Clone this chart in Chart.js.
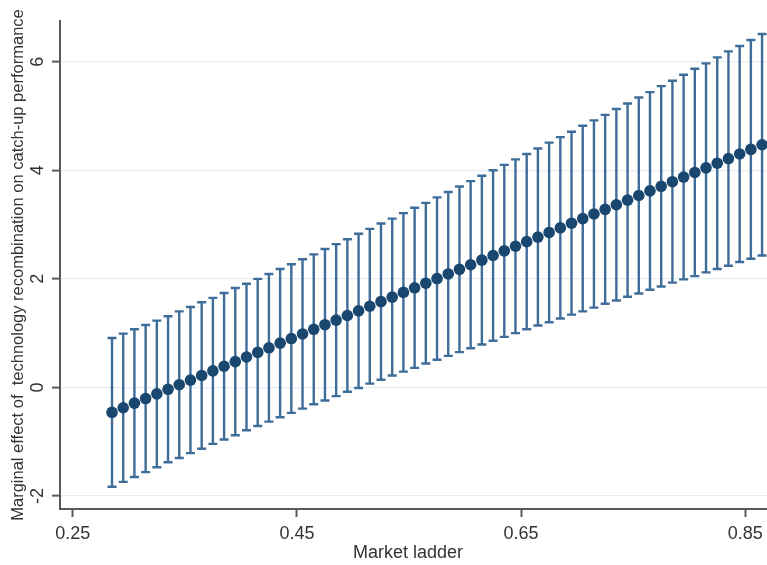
<!DOCTYPE html>
<html>
<head>
<meta charset="utf-8">
<script src="https://cdn.jsdelivr.net/npm/chart.js@4/dist/chart.umd.min.js"></script>
<style>
  html, body { margin: 0; padding: 0; background: #ffffff; }
  #wrap { width: 767px; height: 565px; }
</style>
</head>
<body>
<div id="wrap"><canvas id="c" width="767" height="565"></canvas></div>
<script>
// Market ladder values (x)
const marketLadder = [0.285,0.295,0.305,0.315,0.325,0.335,0.345,0.355,0.365,0.375,
  0.385,0.395,0.405,0.415,0.425,0.435,0.445,0.455,0.465,0.475,
  0.485,0.495,0.505,0.515,0.525,0.535,0.545,0.555,0.565,0.575,
  0.585,0.595,0.605,0.615,0.625,0.635,0.645,0.655,0.665,0.675,
  0.685,0.695,0.705,0.715,0.725,0.735,0.745,0.755,0.765,0.775,
  0.785,0.795,0.805,0.815,0.825,0.835,0.845,0.855,0.865];
// Marginal effect (point estimate)
const marginalEffect = [-0.46,-0.375,-0.29,-0.205,-0.12,-0.035,0.05,0.135,0.22,0.305,
  0.39,0.475,0.56,0.645,0.73,0.815,0.90,0.985,1.07,1.155,
  1.24,1.325,1.41,1.495,1.58,1.665,1.75,1.835,1.92,2.005,
  2.09,2.175,2.26,2.345,2.43,2.515,2.60,2.685,2.77,2.855,
  2.94,3.025,3.11,3.195,3.28,3.365,3.45,3.535,3.62,3.705,
  3.79,3.875,3.96,4.045,4.13,4.215,4.30,4.385,4.47];
// Upper confidence bound
const ciUpper = [0.91,0.99,1.07,1.15,1.23,1.31,1.40,1.48,1.57,1.65,
  1.74,1.83,1.91,2.00,2.09,2.18,2.27,2.36,2.45,2.55,
  2.64,2.73,2.83,2.92,3.02,3.11,3.21,3.31,3.40,3.50,
  3.60,3.70,3.80,3.90,4.00,4.10,4.20,4.30,4.40,4.51,
  4.61,4.71,4.82,4.92,5.02,5.13,5.23,5.34,5.44,5.55,
  5.65,5.76,5.87,5.97,6.08,6.19,6.29,6.40,6.51];
// Lower confidence bound
const ciLower = [-1.83,-1.74,-1.65,-1.56,-1.47,-1.38,-1.30,-1.21,-1.13,-1.04,
  -0.96,-0.88,-0.79,-0.71,-0.63,-0.55,-0.47,-0.39,-0.31,-0.24,
  -0.16,-0.08,-0.01,0.07,0.14,0.22,0.29,0.36,0.44,0.51,
  0.58,0.65,0.72,0.79,0.86,0.93,1.00,1.07,1.14,1.20,
  1.27,1.34,1.40,1.47,1.54,1.60,1.67,1.73,1.80,1.86,
  1.93,1.99,2.05,2.12,2.18,2.24,2.31,2.37,2.43];

const xTicks = [0.25, 0.45, 0.65, 0.85];
const yTicks = [-2, 0, 2, 4, 6];
const xTitle = 'Market ladder';
const yTitle = 'Marginal effect of  technology recombination on catch-up performance';

const AXIS_COLOR = '#5a5a5a';
const GRID_COLOR = '#e4edef';
const BAR_COLOR = '#3f6d99';
const DOT_COLOR = '#1a476f';
const FONT = '"Liberation Sans", Arial, sans-serif';

const errorBars = {
  id: 'errorBars',
  beforeDatasetsDraw(chart) {
    const ctx = chart.ctx, xs = chart.scales.x, ys = chart.scales.y;
    ctx.save();
    ctx.strokeStyle = BAR_COLOR;
    ctx.lineWidth = 2.4;
    ctx.lineCap = 'butt';
    for (let i = 0; i < marketLadder.length; i++) {
      const px = xs.getPixelForValue(marketLadder[i]);
      const pu = ys.getPixelForValue(ciUpper[i]);
      const pl = ys.getPixelForValue(ciLower[i]);
      ctx.beginPath();
      ctx.moveTo(px, pu); ctx.lineTo(px, pl);
      ctx.moveTo(px - 4.5, pu); ctx.lineTo(px + 4.5, pu);
      ctx.moveTo(px - 4.5, pl); ctx.lineTo(px + 4.5, pl);
      ctx.stroke();
    }
    ctx.restore();
  }
};

const axisText = {
  id: 'axisText',
  afterDraw(chart) {
    const ctx = chart.ctx, xs = chart.scales.x, ys = chart.scales.y;
    ctx.save();
    ctx.fillStyle = '#333333';
    ctx.textAlign = 'center';
    ctx.textBaseline = 'middle';
    ctx.font = '18px ' + FONT;
    xTicks.forEach(v => {
      ctx.fillText(v.toFixed(2), xs.getPixelForValue(v), 534);
    });
    yTicks.forEach(v => {
      ctx.save();
      ctx.translate(38, ys.getPixelForValue(v));
      ctx.rotate(-Math.PI / 2);
      ctx.fillText(String(v), 0, 0);
      ctx.restore();
    });
    ctx.font = '18px ' + FONT;
    ctx.fillText(xTitle, 408, 553);
    ctx.save();
    ctx.translate(18, 265);
    ctx.rotate(-Math.PI / 2);
    ctx.font = '16.5px ' + FONT;
    ctx.fillText(yTitle, 0, 0);
    ctx.restore();
    ctx.restore();
  }
};

new Chart(document.getElementById('c'), {
  type: 'scatter',
  data: {
    datasets: [{
      data: marketLadder.map((x, i) => ({ x: x, y: marginalEffect[i] })),
      pointRadius: 5.8,
      pointBackgroundColor: DOT_COLOR,
      pointBorderColor: DOT_COLOR,
      pointBorderWidth: 0,
      showLine: false,
      clip: 0
    }]
  },
  options: {
    responsive: false,
    animation: false,
    layout: { autoPadding: false, padding: { top: 21, right: 0, left: 0, bottom: 0 } },
    plugins: { legend: { display: false }, tooltip: { enabled: false } },
    scales: {
      x: {
        type: 'linear',
        min: 0.2386,
        max: 0.8694,
        afterBuildTicks: s => { s.ticks = xTicks.map(v => ({ value: v })); },
        afterFit: s => { s.height = 56; },
        ticks: { display: false },
        grid: { drawOnChartArea: false, drawTicks: true, tickLength: 8, tickColor: AXIS_COLOR, tickWidth: 2 },
        border: { display: true, color: AXIS_COLOR, width: 2 }
      },
      y: {
        type: 'linear',
        min: -2.24,
        max: 6.75,
        afterBuildTicks: s => { s.ticks = yTicks.map(v => ({ value: v })); },
        afterFit: s => { s.width = 60; },
        ticks: { display: false },
        grid: { color: GRID_COLOR, lineWidth: 1.2, drawTicks: true, tickLength: 8, tickColor: AXIS_COLOR, tickWidth: 2 },
        border: { display: true, color: AXIS_COLOR, width: 2 }
      }
    }
  },
  plugins: [errorBars, axisText]
});
</script>
</body>
</html>
